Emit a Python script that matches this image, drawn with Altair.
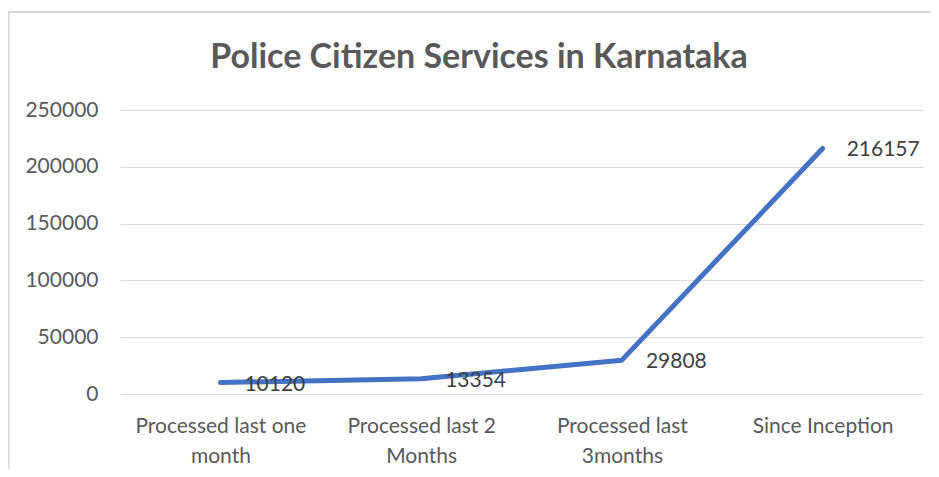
import altair as alt
import pandas as pd

categories = ["Processed last one month", "Processed last 2 Months",
              "Processed last 3months", "Since Inception"]
label_lines = ["Processed last one|month", "Processed last 2|Months",
               "Processed last|3months", "Since Inception"]
values = [10120, 13354, 29808, 216157]
y_ticks = [0, 50000, 100000, 150000, 200000, 250000]
title_text = "Police Citizen Services in Karnataka"

df = pd.DataFrame({"cat": label_lines, "value": values})

FONT = "Lato"
GREY = "#595959"

x = alt.X("cat:N", sort=label_lines, title=None,
          scale=alt.Scale(paddingInner=0, paddingOuter=0),
          axis=alt.Axis(labelExpr="split(datum.label, '|')", labelAngle=0,
                        labelFontSize=21, labelColor=GREY, labelFont=FONT,
                        labelLineHeight=30, labelPadding=21, labelBaseline="top",
                        domain=False, ticks=False, grid=False))
y = alt.Y("value:Q", title=None,
          scale=alt.Scale(domain=[0, 250000], nice=False),
          axis=alt.Axis(values=y_ticks, format="d", labelFontSize=21,
                        labelColor=GREY, labelFont=FONT, labelPadding=22,
                        domain=False, ticks=False, gridColor="#d9d9d9",
                        gridWidth=1.2))

base = alt.Chart(df).encode(x=x, y=y)
line = base.mark_line(color="#4472C4", strokeWidth=5, strokeCap="round",
                      strokeJoin="round")
labels = base.mark_text(align="left", baseline="middle", dx=24, dy=2, fontSize=21,
                        font=FONT, color="#404040").encode(text=alt.Text("value:Q", format="d"))

title = alt.Chart(pd.DataFrame({"t": [title_text]})).mark_text(
    fontSize=34, fontWeight="bold", color=GREY, font=FONT,
    align="center", baseline="middle").encode(
    text="t:N", x=alt.value(359), y=alt.value(-52))

border_left = alt.Chart(df).mark_rule(color="#d9d9d9", strokeWidth=1.5).encode(
    x=alt.value(-111.5), y=alt.value(-98), y2=alt.value(400))
border_top = alt.Chart(df).mark_rule(color="#d9d9d9", strokeWidth=1.5).encode(
    x=alt.value(-111.5), x2=alt.value(900), y=alt.value(-98))

chart = alt.layer(border_left, border_top, title, line, labels).properties(
    width=803, height=284,
    autosize=alt.AutoSizeParams(type="none"),
    padding={"left": 112, "top": 102, "right": 8, "bottom": 75},
).configure(background="white").configure_view(stroke=None)

chart.save("out.html", embed_options={"renderer": "svg", "actions": False})
